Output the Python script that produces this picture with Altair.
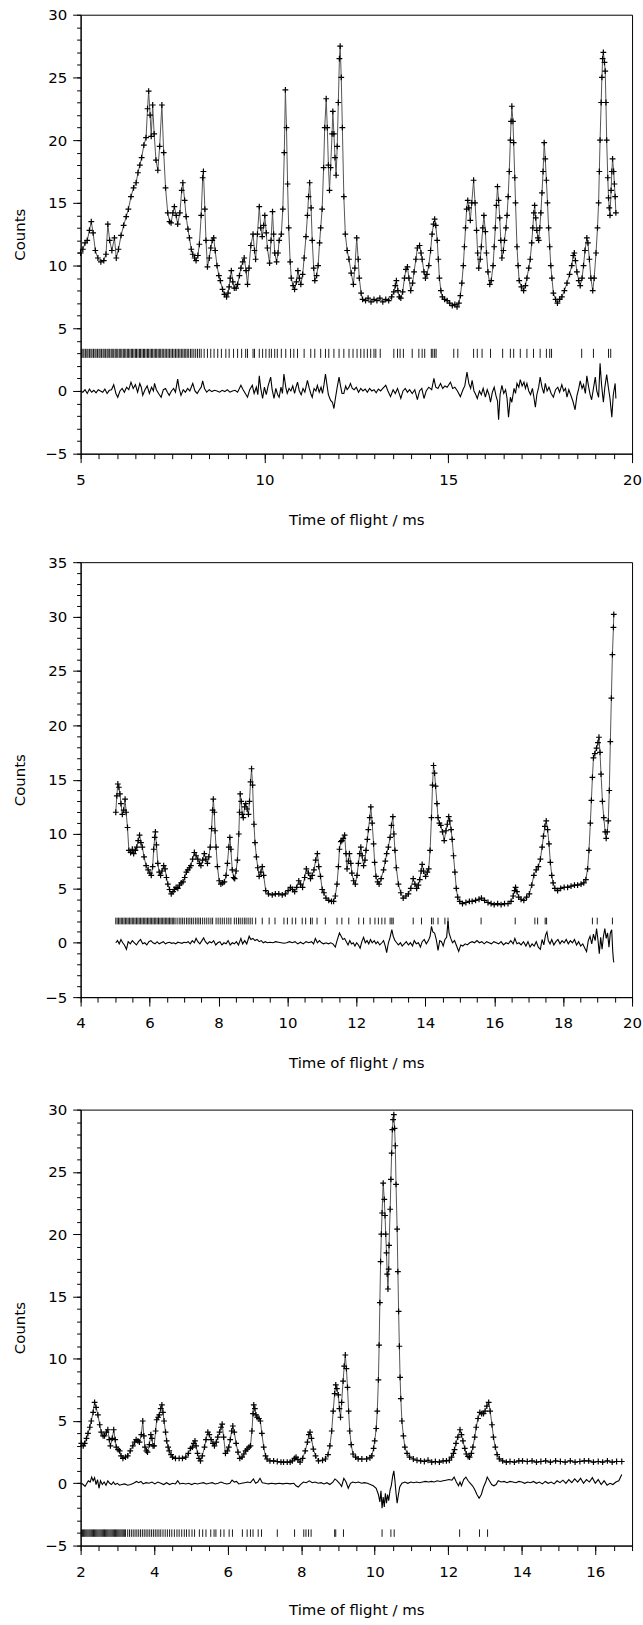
import altair as alt
import pandas as pd

FONT = "DejaVu Sans"

# ---------------- Panel 1 (top) ----------------
P1_OBS = [
(5.00,11.0),(5.06,11.3),(5.12,11.8),(5.18,12.0),(5.24,12.8),(5.29,13.5),(5.34,12.6),(5.40,11.2),(5.47,10.6),(5.55,10.3),
(5.63,10.4),(5.69,10.9),(5.74,13.3),(5.79,12.0),(5.85,11.2),(5.92,12.2),(5.97,10.6),(6.03,11.3),(6.10,12.4),(6.17,13.2),
(6.24,13.9),(6.30,14.5),(6.37,15.5),(6.44,16.2),(6.51,16.6),(6.56,17.4),(6.61,18.0),(6.66,18.6),(6.72,19.6),(6.78,20.2),
(6.82,22.5),(6.85,23.9),(6.89,22.0),(6.92,20.3),(6.96,22.8),(7.00,20.5),(7.05,18.4),(7.10,17.6),(7.15,19.5),(7.21,22.8),
(7.26,19.0),(7.31,16.2),(7.37,14.2),(7.42,13.5),(7.46,13.4),(7.51,14.2),(7.55,14.7),(7.60,14.0),(7.64,13.3),(7.70,14.2),
(7.75,16.0),(7.78,16.6),(7.83,15.2),(7.87,13.9),(7.92,12.9),(7.96,12.2),(8.01,11.3),(8.05,10.9),(8.10,10.6),(8.14,10.4),
(8.19,10.8),(8.23,11.7),(8.28,14.0),(8.32,17.0),(8.34,17.5),(8.38,14.5),(8.41,12.0),(8.45,9.9),(8.50,10.6),(8.54,11.4),
(8.58,12.0),(8.62,12.2),(8.66,11.2),(8.71,10.0),(8.76,9.2),(8.80,8.8),(8.86,8.1),(8.91,7.7),(8.97,7.5),(9.01,7.8),
(9.04,8.3),(9.07,9.0),(9.10,9.6),(9.14,8.7),(9.18,8.2),(9.23,8.2),(9.27,8.5),(9.32,9.2),(9.36,9.8),(9.41,10.3),
(9.45,10.6),(9.50,9.6),(9.54,8.5),(9.58,9.8),(9.63,11.6),(9.69,12.5),(9.73,11.2),(9.76,10.5),(9.81,12.5),(9.86,14.7),
(9.90,13.0),(9.94,12.3),(9.98,13.2),(10.01,14.0),(10.05,12.6),(10.08,11.4),(10.14,10.2),(10.18,12.0),(10.22,14.3),(10.25,12.5),
(10.28,11.0),(10.33,10.3),(10.37,11.0),(10.40,12.0),(10.46,12.5),(10.50,14.5),(10.54,19.0),(10.57,24.0),(10.60,21.0),(10.63,16.5),
(10.66,13.0),(10.70,10.3),(10.73,9.0),(10.78,8.4),(10.82,8.1),(10.87,8.7),(10.91,9.6),(10.95,9.0),(10.99,8.5),(11.04,9.3),
(11.08,10.6),(11.13,12.3),(11.17,14.0),(11.20,15.5),(11.23,16.6),(11.27,14.6),(11.30,12.0),(11.34,9.8),(11.37,8.8),(11.42,9.2),
(11.46,10.0),(11.50,11.8),(11.53,13.0),(11.57,14.5),(11.61,17.8),(11.64,21.0),(11.68,23.3),(11.71,21.0),(11.74,18.0),(11.77,16.0),
(11.80,17.8),(11.84,20.5),(11.86,22.3),(11.89,20.5),(11.92,18.6),(11.95,17.2),(11.98,19.5),(12.01,23.0),(12.04,26.5),(12.06,27.5),
(12.09,25.0),(12.12,21.0),(12.16,15.5),(12.20,12.5),(12.25,11.2),(12.30,10.5),(12.36,9.4),(12.42,8.5),(12.46,9.8),(12.51,12.2),
(12.55,10.5),(12.58,9.0),(12.63,7.8),(12.67,7.3),(12.75,7.2),(12.82,7.4),(12.90,7.1),(12.98,7.3),(13.06,7.2),(13.14,7.4),
(13.22,7.1),(13.30,7.3),(13.38,7.2),(13.46,7.5),(13.52,7.9),(13.56,8.4),(13.59,8.8),(13.63,8.0),(13.67,7.5),(13.71,7.4),
(13.76,7.9),(13.81,9.0),(13.85,9.7),(13.89,9.9),(13.93,9.0),(13.98,8.0),(14.03,8.6),(14.07,9.5),(14.12,10.5),(14.16,11.4),
(14.22,11.6),(14.26,11.0),(14.29,10.5),(14.34,9.5),(14.38,9.0),(14.42,9.3),(14.47,10.0),(14.52,11.2),(14.56,12.5),(14.60,13.3),
(14.63,13.7),(14.66,13.2),(14.70,12.0),(14.73,10.5),(14.76,9.0),(14.80,8.0),(14.84,7.5),(14.90,7.3),(14.97,7.2),(15.04,7.0),
(15.11,6.8),(15.18,6.9),(15.24,6.7),(15.29,7.0),(15.33,7.6),(15.37,8.6),(15.41,10.0),(15.44,11.5),(15.47,13.0),(15.50,14.5),
(15.53,15.2),(15.56,14.6),(15.60,13.6),(15.64,15.0),(15.69,16.8),(15.73,15.0),(15.77,12.8),(15.80,11.0),(15.83,9.8),(15.87,10.5),
(15.90,11.5),(15.94,13.0),(15.97,14.0),(16.01,12.7),(16.04,11.0),(16.08,9.5),(16.13,8.5),(16.17,8.8),(16.22,10.0),(16.25,11.5),
(16.28,13.0),(16.31,14.8),(16.34,16.3),(16.37,15.2),(16.40,13.8),(16.43,12.0),(16.46,10.6),(16.50,11.2),(16.53,12.0),(16.57,13.0),
(16.60,14.0),(16.63,15.5),(16.66,17.5),(16.69,20.0),(16.71,21.5),(16.73,22.7),(16.76,21.5),(16.78,19.8),(16.81,17.0),(16.83,15.0),
(16.87,11.5),(16.90,10.0),(16.93,8.8),(16.99,8.3),(17.05,8.0),(17.10,8.4),(17.14,9.0),(17.19,9.8),(17.23,10.5),(17.27,11.8),
(17.30,13.0),(17.33,14.2),(17.35,14.8),(17.38,13.8),(17.41,12.8),(17.44,12.2),(17.46,12.0),(17.49,13.0),(17.52,14.2),(17.55,15.8),
(17.58,17.5),(17.61,19.8),(17.64,18.5),(17.67,16.8),(17.70,15.0),(17.73,13.0),(17.76,11.5),(17.79,10.0),(17.82,9.0),(17.86,7.8),
(17.92,7.3),(17.97,7.0),(18.03,7.3),(18.09,7.5),(18.16,8.0),(18.23,8.6),(18.30,9.3),(18.36,10.0),(18.40,10.8),(18.43,11.0),
(18.46,10.4),(18.50,9.5),(18.55,8.8),(18.59,8.4),(18.64,9.0),(18.68,10.0),(18.72,11.2),(18.77,12.2),(18.80,11.8),(18.84,10.5),
(18.88,9.0),(18.93,8.0),(18.97,9.0),(19.02,11.0),(19.06,13.0),(19.09,15.0),(19.11,17.5),(19.13,20.0),(19.16,23.0),(19.18,25.0),
(19.20,26.5),(19.22,27.0),(19.25,26.2),(19.27,25.5),(19.29,23.0),(19.31,20.0),(19.34,17.0),(19.36,15.4),(19.38,14.6),(19.40,14.0),
(19.43,16.0),(19.45,17.5),(19.47,18.5),(19.50,17.5),(19.52,16.5),(19.54,15.5),(19.56,14.2),
]

P1_DIFF = [
(5.00,0.0),(5.06,-0.1),(5.12,0.1),(5.18,-0.2),(5.24,0.15),(5.30,-0.1),(5.36,0.05),(5.42,-0.15),(5.48,0.1),(5.54,0.0),
(5.60,-0.1),(5.66,0.15),(5.72,-0.2),(5.78,0.05),(5.84,0.1),(5.90,0.5),(5.96,-0.2),(6.01,-0.5),(6.07,0.0),(6.13,0.2),
(6.19,-0.1),(6.25,0.3),(6.31,0.1),(6.37,0.7),(6.43,0.2),(6.49,0.5),(6.55,-0.1),(6.61,0.6),(6.65,0.3),(6.69,-0.35),
(6.75,0.1),(6.81,0.4),(6.87,-0.2),(6.93,0.3),(6.98,0.0),(7.01,0.6),(7.06,0.1),(7.12,-0.2),(7.19,-0.5),(7.25,0.1),
(7.31,0.2),(7.36,-0.1),(7.41,-0.35),(7.47,0.0),(7.53,0.2),(7.58,-0.1),(7.64,0.95),(7.68,0.2),(7.73,-0.35),(7.79,0.1),
(7.85,-0.1),(7.91,0.2),(7.97,0.0),(8.05,0.6),(8.11,0.0),(8.17,-0.2),(8.23,0.1),(8.28,0.3),(8.32,0.8),(8.37,0.2),
(8.43,-0.1),(8.50,0.1),(8.57,-0.05),(8.64,0.05),(8.71,0.0),(8.78,-0.1),(8.85,0.05),(8.92,-0.05),(8.99,0.1),(9.06,-0.1),
(9.13,0.0),(9.20,0.05),(9.27,-0.1),(9.36,0.45),(9.42,0.1),(9.48,-0.2),(9.54,-0.5),(9.60,0.1),(9.67,0.45),(9.72,-0.2),
(9.78,0.3),(9.82,-0.3),(9.86,1.2),(9.90,0.2),(9.95,-0.6),(10.00,0.3),(10.05,-0.3),(10.10,0.4),(10.17,1.1),(10.21,0.1),
(10.26,-0.6),(10.31,0.2),(10.36,-0.3),(10.40,-0.5),(10.45,0.3),(10.49,-0.2),(10.53,1.35),(10.58,0.3),(10.62,-0.2),(10.67,0.2),
(10.72,0.0),(10.77,0.4),(10.82,-0.2),(10.86,0.3),(10.90,0.7),(10.95,0.0),(11.00,-0.3),(11.05,0.2),(11.10,-0.1),(11.17,0.85),
(11.22,0.2),(11.26,-0.2),(11.30,-0.5),(11.35,0.2),(11.40,0.0),(11.44,0.45),(11.49,-0.1),(11.54,0.3),(11.58,-0.2),(11.62,0.5),
(11.66,1.35),(11.70,0.5),(11.74,-0.3),(11.80,-0.75),(11.85,-0.9),(11.89,-1.4),(11.93,-0.6),(11.98,0.3),(12.03,1.1),(12.07,0.4),
(12.11,-0.2),(12.16,-0.2),(12.21,0.4),(12.25,0.1),(12.30,0.3),(12.34,0.6),(12.39,0.2),(12.44,0.1),(12.50,0.3),(12.56,-0.1),
(12.62,0.2),(12.68,0.0),(12.74,0.15),(12.80,-0.1),(12.86,0.2),(12.92,0.0),(12.98,0.1),(13.04,-0.15),(13.10,0.15),(13.16,0.0),
(13.22,0.2),(13.30,0.45),(13.36,0.0),(13.43,-0.45),(13.50,0.1),(13.56,-0.2),(13.62,0.2),(13.71,-0.6),(13.77,0.0),(13.83,0.2),
(13.89,-0.1),(13.95,0.1),(14.02,-0.2),(14.09,0.1),(14.16,-0.7),(14.22,0.0),(14.28,0.2),(14.34,-0.6),(14.40,0.0),(14.47,0.3),
(14.55,0.1),(14.61,1.0),(14.66,0.3),(14.72,0.2),(14.79,0.6),(14.85,0.2),(14.91,0.4),(14.97,0.3),(15.06,0.7),(15.12,0.2),
(15.18,0.3),(15.25,0.0),(15.33,-0.45),(15.40,0.1),(15.45,0.4),(15.51,1.5),(15.56,0.6),(15.61,0.2),(15.65,0.85),(15.70,0.0),
(15.75,-0.3),(15.79,-0.6),(15.85,0.0),(15.90,-0.3),(15.95,0.2),(16.01,-0.5),(16.06,0.1),(16.11,-0.3),(16.15,-0.9),(16.20,-0.1),
(16.25,0.3),(16.30,-0.4),(16.34,-0.8),(16.37,-2.3),(16.41,-0.3),(16.46,0.45),(16.51,-0.2),(16.56,0.1),(16.60,-0.6),(16.64,-2.1),
(16.69,-0.5),(16.73,-0.9),(16.79,0.2),(16.83,-0.2),(16.87,0.6),(16.92,0.3),(16.96,0.9),(17.01,0.4),(17.06,0.7),(17.10,0.2),
(17.14,0.6),(17.19,0.0),(17.24,-0.3),(17.29,0.2),(17.33,-0.5),(17.37,-1.3),(17.41,-0.3),(17.46,0.3),(17.50,1.1),(17.55,0.3),
(17.60,-0.2),(17.64,0.6),(17.69,0.0),(17.74,0.3),(17.80,-0.2),(17.86,-0.5),(17.92,0.1),(17.98,0.3),(18.03,-0.1),(18.09,0.5),
(18.14,0.0),(18.19,0.2),(18.23,-0.5),(18.28,0.1),(18.33,-0.3),(18.39,-0.8),(18.45,-1.5),(18.50,-0.4),(18.55,0.2),(18.59,0.8),
(18.64,0.2),(18.68,0.5),(18.73,-0.2),(18.77,1.2),(18.82,0.3),(18.86,-0.3),(18.90,-0.7),(18.95,0.2),(19.00,1.1),(19.04,0.0),
(19.09,-0.5),(19.13,2.2),(19.17,0.5),(19.22,-0.9),(19.26,0.3),(19.31,1.3),(19.36,0.2),(19.40,-0.6),(19.45,-2.1),(19.49,-0.3),
(19.54,0.6),(19.56,-0.6),
]

P1_TICKS = [
5.02,5.06,5.09,5.13,5.17,5.20,5.24,5.28,5.31,5.35,5.39,5.42,5.46,5.50,5.53,5.57,5.61,5.64,5.68,5.72,
5.75,5.79,5.83,5.86,5.90,5.94,5.97,6.01,6.05,6.08,6.12,6.16,6.19,6.23,6.27,6.30,6.34,6.38,6.41,6.45,
6.49,6.52,6.56,6.60,6.63,6.67,6.71,6.74,6.78,6.82,6.85,6.89,6.93,6.96,7.00,7.04,7.07,7.11,7.15,7.18,
7.22,7.26,7.30,7.34,7.38,7.42,7.46,7.50,7.54,7.58,7.62,7.66,7.70,7.74,7.78,7.82,7.86,7.90,7.94,7.99,
8.03,8.08,8.13,8.18,8.23,8.28,8.36,8.45,8.54,8.63,8.73,8.83,8.95,9.04,9.16,9.27,9.38,9.49,9.54,9.69,
9.73,9.86,9.95,10.04,10.13,10.19,10.28,10.35,10.46,10.58,10.71,10.80,10.90,11.08,11.26,11.37,11.53,11.66,11.75,11.89,
12.03,12.16,12.30,12.41,12.52,12.62,12.71,12.80,12.89,12.98,13.03,13.15,13.52,13.62,13.69,13.78,14.02,14.20,14.29,14.36,
14.54,14.58,14.63,14.67,15.15,15.26,15.69,15.79,15.92,16.15,16.48,16.69,16.78,16.96,17.14,17.32,17.50,17.67,17.76,17.81,
18.63,18.95,19.36,19.42,
]

# ---------------- Panel 2 (middle) ----------------
P2_OBS = [
(5.02,12.0),(5.05,13.5),(5.08,14.6),(5.11,14.3),(5.14,13.7),(5.17,12.8),(5.21,11.8),(5.25,12.2),(5.29,13.2),(5.32,12.0),
(5.36,10.6),(5.40,8.5),(5.45,8.3),(5.50,8.6),(5.54,8.2),(5.59,8.5),(5.63,8.8),(5.67,9.4),(5.71,9.9),(5.75,9.2),
(5.79,8.8),(5.84,7.9),(5.90,7.1),(5.96,6.7),(6.01,6.4),(6.05,6.2),(6.09,7.0),(6.12,8.6),(6.15,9.7),(6.17,10.2),
(6.20,9.0),(6.24,7.3),(6.28,6.5),(6.32,6.2),(6.36,6.6),(6.41,7.1),(6.45,6.8),(6.49,6.0),(6.53,5.4),(6.58,4.9),
(6.63,4.5),(6.68,4.7),(6.72,4.9),(6.77,5.1),(6.82,5.0),(6.87,5.3),(6.92,5.5),(6.97,5.6),(7.02,6.0),(7.07,6.5),
(7.11,6.7),(7.16,6.9),(7.20,7.1),(7.25,7.7),(7.30,8.3),(7.35,8.0),(7.40,7.7),(7.45,7.3),(7.49,7.1),(7.54,7.6),
(7.59,8.2),(7.63,7.7),(7.68,7.3),(7.72,7.9),(7.76,8.8),(7.80,10.5),(7.83,12.2),(7.85,13.2),(7.88,12.0),(7.90,10.3),
(7.93,8.8),(7.97,7.0),(8.02,5.7),(8.07,5.4),(8.12,5.5),(8.17,5.6),(8.22,6.2),(8.26,7.3),(8.30,8.8),(8.33,9.7),
(8.36,8.6),(8.40,6.7),(8.44,6.0),(8.47,5.9),(8.51,6.6),(8.55,7.6),(8.59,10.0),(8.61,12.0),(8.63,13.7),(8.66,13.0),
(8.69,11.8),(8.72,11.5),(8.76,12.5),(8.79,12.8),(8.83,12.3),(8.87,11.8),(8.90,13.0),(8.93,14.8),(8.96,16.0),(8.99,14.5),
(9.03,10.9),(9.06,9.2),(9.10,7.9),(9.14,6.9),(9.18,6.1),(9.23,6.5),(9.27,7.0),(9.31,6.2),(9.37,4.8),(9.45,4.5),
(9.56,4.4),(9.65,4.5),(9.75,4.5),(9.85,4.4),(9.94,4.5),(10.02,4.8),(10.09,5.1),(10.15,4.9),(10.21,4.7),(10.27,5.1),
(10.33,5.7),(10.38,5.4),(10.44,5.1),(10.50,6.0),(10.55,6.8),(10.61,6.4),(10.67,5.9),(10.72,6.2),(10.77,6.7),(10.82,7.6),
(10.87,8.2),(10.91,7.0),(10.96,6.1),(11.01,4.9),(11.06,4.6),(11.12,4.1),(11.20,3.9),(11.28,3.8),(11.34,3.8),(11.39,4.3),
(11.44,5.4),(11.48,7.0),(11.51,8.6),(11.55,9.3),(11.58,9.4),(11.62,9.6),(11.66,9.9),(11.70,8.2),(11.73,6.8),(11.77,7.5),
(11.80,8.2),(11.84,7.3),(11.87,6.4),(11.92,5.7),(11.97,5.4),(12.02,6.2),(12.06,7.3),(12.10,8.2),(12.13,8.8),(12.17,8.0),
(12.21,7.1),(12.25,7.6),(12.28,8.5),(12.32,9.5),(12.35,10.4),(12.39,11.5),(12.42,12.5),(12.46,11.0),(12.50,9.1),(12.53,7.4),
(12.57,6.1),(12.62,5.6),(12.66,5.4),(12.72,5.9),(12.79,6.7),(12.84,7.5),(12.88,8.2),(12.93,8.8),(12.98,9.7),(13.02,10.8),
(13.06,11.6),(13.09,10.0),(13.12,8.5),(13.16,6.9),(13.22,5.4),(13.29,4.6),(13.36,4.1),(13.44,4.3),(13.51,4.5),(13.58,5.0),
(13.65,5.9),(13.70,5.4),(13.75,5.0),(13.80,5.3),(13.84,5.8),(13.88,6.6),(13.91,7.2),(13.95,6.6),(14.01,6.1),(14.06,6.5),
(14.10,6.8),(14.14,8.5),(14.18,11.5),(14.21,14.5),(14.24,16.3),(14.27,15.6),(14.30,14.4),(14.34,12.8),(14.37,11.5),(14.41,11.0),
(14.45,10.8),(14.50,10.2),(14.55,9.4),(14.60,10.3),(14.64,10.9),(14.68,11.6),(14.71,11.2),(14.75,10.4),(14.78,9.5),(14.82,8.0),
(14.86,6.5),(14.90,5.0),(14.94,4.2),(15.00,3.8),(15.08,3.6),(15.18,3.7),(15.28,3.8),(15.36,3.8),(15.46,3.9),(15.56,4.0),
(15.63,4.1),(15.72,3.9),(15.82,3.7),(15.91,3.6),(16.00,3.5),(16.10,3.6),(16.20,3.5),(16.30,3.6),(16.40,3.6),(16.49,3.8),
(16.55,4.3),(16.59,4.8),(16.62,5.1),(16.66,4.7),(16.71,4.2),(16.78,4.0),(16.86,3.9),(16.94,4.2),(17.02,4.5),(17.09,5.3),
(17.15,6.2),(17.22,6.7),(17.28,7.0),(17.34,7.7),(17.39,8.8),(17.43,9.8),(17.47,10.7),(17.51,11.2),(17.55,10.4),(17.59,9.1),
(17.63,7.4),(17.67,6.2),(17.71,5.5),(17.76,5.0),(17.84,4.8),(17.93,5.0),(18.03,5.1),(18.13,5.1),(18.23,5.2),(18.33,5.3),
(18.42,5.3),(18.52,5.4),(18.60,5.5),(18.66,5.8),(18.71,6.8),(18.75,8.5),(18.79,11.0),(18.82,13.1),(18.85,15.2),(18.88,17.0),
(18.92,17.4),(18.97,17.9),(19.01,18.4),(19.04,18.9),(19.07,17.5),(19.10,15.5),(19.14,13.0),(19.18,11.5),(19.22,10.2),(19.25,9.6),
(19.28,10.2),(19.31,11.2),(19.34,14.0),(19.37,18.5),(19.40,22.5),(19.43,26.5),(19.46,29.0),(19.47,30.2),
]

P2_DIFF = [
(5.02,0.0),(5.07,0.2),(5.12,-0.1),(5.17,0.3),(5.22,0.0),(5.27,-0.2),(5.33,-0.6),(5.38,0.1),(5.44,-0.1),(5.50,0.2),
(5.56,0.0),(5.62,-0.2),(5.68,0.1),(5.74,0.3),(5.80,-0.1),(5.86,0.0),(5.92,-0.2),(5.98,0.1),(6.04,0.2),(6.10,0.0),
(6.16,-0.1),(6.22,0.1),(6.28,-0.1),(6.34,0.0),(6.40,0.1),(6.46,-0.1),(6.52,0.0),(6.58,0.05),(6.64,-0.05),(6.70,0.0),
(6.76,-0.1),(6.82,0.05),(6.88,0.0),(6.94,-0.05),(7.00,0.05),(7.06,0.0),(7.12,0.1),(7.18,-0.1),(7.24,0.2),(7.30,0.0),
(7.35,0.4),(7.40,0.1),(7.46,-0.1),(7.52,0.2),(7.57,0.45),(7.62,0.1),(7.68,-0.1),(7.74,0.1),(7.80,0.0),(7.86,0.2),
(7.92,-0.2),(7.98,0.0),(8.04,0.1),(8.10,-0.2),(8.16,0.0),(8.22,-0.1),(8.28,0.2),(8.34,-0.2),(8.40,0.0),(8.46,-0.1),
(8.52,0.1),(8.58,-0.2),(8.65,0.4),(8.70,-0.1),(8.76,0.2),(8.82,-0.1),(8.89,0.6),(8.94,0.3),(9.00,0.4),(9.06,0.2),
(9.12,0.3),(9.18,0.1),(9.24,0.2),(9.30,0.0),(9.36,0.1),(9.42,0.0),(9.50,0.05),(9.58,0.0),(9.66,0.1),(9.74,0.05),
(9.82,0.0),(9.90,-0.05),(9.98,0.0),(10.06,0.1),(10.14,0.0),(10.22,0.1),(10.30,-0.1),(10.38,0.05),(10.46,-0.1),(10.54,0.1),
(10.62,0.0),(10.70,0.1),(10.76,-0.1),(10.81,0.4),(10.87,0.0),(10.93,0.2),(10.99,0.0),(11.05,-0.1),(11.12,0.0),(11.19,-0.1),
(11.26,0.0),(11.32,-0.1),(11.39,-0.4),(11.44,0.2),(11.51,0.9),(11.56,0.6),(11.61,0.3),(11.66,0.4),(11.71,0.1),(11.76,-0.2),
(11.81,0.2),(11.86,-0.1),(11.91,0.0),(11.96,-0.3),(12.01,0.0),(12.06,-0.2),(12.11,-0.5),(12.16,0.1),(12.21,0.5),(12.26,0.0),
(12.31,0.2),(12.36,-0.1),(12.41,0.3),(12.46,0.0),(12.52,0.2),(12.57,-0.1),(12.62,0.1),(12.68,-0.2),(12.74,0.0),(12.79,0.2),
(12.84,-0.3),(12.88,-0.9),(12.93,0.0),(12.98,0.5),(13.03,1.2),(13.07,0.6),(13.12,0.2),(13.17,0.0),(13.22,-0.2),(13.28,0.0),
(13.33,-0.3),(13.39,-0.1),(13.45,0.1),(13.51,-0.2),(13.57,0.0),(13.63,-0.3),(13.68,0.2),(13.74,-0.1),(13.80,0.0),(13.86,-0.4),
(13.91,0.1),(13.97,0.3),(14.03,-0.1),(14.09,0.2),(14.14,0.6),(14.18,1.5),(14.22,1.0),(14.27,0.9),(14.32,0.3),(14.37,-0.7),
(14.42,0.2),(14.47,0.1),(14.52,-0.3),(14.57,0.3),(14.62,0.5),(14.66,2.0),(14.69,0.9),(14.74,0.4),(14.79,0.0),(14.85,0.2),
(14.91,-0.3),(14.97,-0.8),(15.03,-0.2),(15.09,-0.3),(15.16,-0.1),(15.22,-0.2),(15.29,0.0),(15.36,0.1),(15.43,0.0),(15.50,0.2),
(15.57,0.0),(15.64,0.1),(15.71,-0.1),(15.78,0.1),(15.85,0.0),(15.92,-0.1),(15.99,0.1),(16.06,0.0),(16.13,-0.1),(16.20,0.1),
(16.27,-0.2),(16.34,0.0),(16.41,-0.1),(16.48,0.2),(16.55,-0.1),(16.60,0.4),(16.66,-0.1),(16.72,0.0),(16.78,-0.2),(16.85,0.1),
(16.92,-0.3),(16.98,0.1),(17.04,-0.4),(17.10,-0.1),(17.16,-0.3),(17.22,0.1),(17.28,-0.4),(17.34,-0.6),(17.39,0.3),(17.44,-0.2),
(17.49,0.7),(17.53,1.0),(17.57,0.2),(17.62,-0.1),(17.67,0.3),(17.73,-0.2),(17.79,0.1),(17.85,0.3),(17.91,-0.1),(17.97,0.2),
(18.03,0.0),(18.09,0.3),(18.15,-0.1),(18.21,0.2),(18.27,0.0),(18.33,0.3),(18.39,-0.2),(18.45,0.1),(18.51,-0.3),(18.57,-0.1),
(18.63,-0.5),(18.68,-0.8),(18.73,0.2),(18.78,0.6),(18.83,-0.1),(18.88,0.8),(18.93,0.2),(18.97,1.3),(19.01,0.3),(19.05,-1.0),
(19.09,0.5),(19.13,-0.6),(19.17,0.6),(19.21,1.3),(19.25,0.4),(19.29,0.9),(19.33,-0.4),(19.37,0.9),(19.41,1.2),(19.44,-0.8),
(19.46,-1.6),(19.47,-1.8),
]

P2_TICKS = [
5.02,5.06,5.10,5.14,5.18,5.22,5.26,5.30,5.34,5.38,5.42,5.46,5.50,5.54,5.58,5.62,5.66,5.70,5.74,5.78,
5.82,5.86,5.90,5.94,5.98,6.02,6.06,6.10,6.14,6.18,6.22,6.26,6.30,6.34,6.38,6.42,6.46,6.50,6.54,6.58,
6.62,6.66,6.70,6.74,6.80,6.86,6.91,6.96,7.01,7.07,7.12,7.17,7.22,7.27,7.33,7.38,7.43,7.48,7.54,7.60,
7.66,7.72,7.78,7.83,7.93,7.99,8.05,8.11,8.17,8.24,8.30,8.36,8.46,8.52,8.58,8.63,8.69,8.75,8.80,8.86,
8.92,8.98,9.08,9.27,9.47,9.64,9.90,10.00,10.14,10.24,10.43,10.53,10.67,10.72,10.86,11.10,11.44,11.58,11.78,12.07,
12.21,12.40,12.54,12.64,12.74,12.83,12.98,13.03,13.07,13.65,13.89,14.18,14.23,14.37,14.57,14.66,15.62,16.61,17.18,17.26,
17.48,17.52,18.85,18.99,19.43,
]

# ---------------- Panel 3 (bottom) ----------------
P3_OBS = [
(2.02,3.2),(2.07,3.0),(2.11,3.2),(2.16,3.6),(2.20,4.0),(2.25,4.5),(2.29,5.0),(2.34,5.7),(2.38,6.5),(2.42,6.1),
(2.47,5.5),(2.52,4.7),(2.56,4.1),(2.61,3.8),(2.65,3.8),(2.70,4.1),(2.74,4.3),(2.78,3.5),(2.81,3.0),(2.86,3.6),
(2.90,4.3),(2.94,3.5),(2.97,2.9),(3.02,2.7),(3.06,2.6),(3.10,2.2),(3.15,2.0),(3.22,2.1),(3.28,2.2),(3.35,2.6),
(3.42,3.0),(3.47,3.3),(3.51,3.5),(3.56,3.4),(3.60,3.3),(3.65,3.9),(3.69,5.0),(3.72,3.8),(3.75,2.9),(3.79,2.6),
(3.82,2.5),(3.87,3.1),(3.91,3.9),(3.94,3.6),(3.97,3.0),(4.00,3.0),(4.04,4.2),(4.07,5.1),(4.11,5.3),(4.14,5.5),
(4.18,6.0),(4.21,6.3),(4.24,5.7),(4.27,5.0),(4.31,4.1),(4.34,3.4),(4.38,2.9),(4.41,2.6),(4.46,2.3),(4.50,2.1),
(4.58,2.0),(4.68,2.0),(4.77,2.0),(4.86,2.1),(4.93,2.4),(4.99,2.8),(5.04,2.9),(5.08,3.2),(5.11,3.4),(5.14,3.0),
(5.18,2.4),(5.22,2.0),(5.26,1.8),(5.31,2.2),(5.37,2.9),(5.41,3.5),(5.46,4.1),(5.50,3.9),(5.55,3.5),(5.60,3.2),
(5.64,3.0),(5.69,3.3),(5.73,3.7),(5.78,4.1),(5.82,4.5),(5.85,4.75),(5.89,3.7),(5.94,2.4),(5.99,2.6),(6.03,2.9),
(6.07,3.5),(6.11,4.2),(6.14,4.6),(6.18,4.1),(6.23,3.2),(6.28,2.5),(6.33,2.0),(6.39,2.1),(6.44,2.35),(6.49,2.6),
(6.53,2.75),(6.58,2.9),(6.62,3.0),(6.66,4.2),(6.69,5.6),(6.71,6.3),(6.74,6.0),(6.77,5.5),(6.80,5.3),(6.85,5.2),
(6.89,5.0),(6.93,4.0),(6.98,2.9),(7.03,2.2),(7.07,1.95),(7.15,1.8),(7.25,1.8),(7.35,1.75),(7.45,1.7),(7.52,1.7),
(7.62,1.7),(7.70,1.7),(7.76,1.8),(7.82,2.0),(7.86,2.1),(7.91,1.9),(7.97,1.7),(8.04,2.0),(8.11,2.6),(8.17,3.3),
(8.21,3.9),(8.24,4.1),(8.28,3.6),(8.33,2.75),(8.39,2.2),(8.47,1.8),(8.58,1.85),(8.66,1.95),(8.73,2.3),(8.78,3.0),
(8.83,4.2),(8.87,5.8),(8.91,7.2),(8.94,7.9),(8.97,7.6),(9.01,7.1),(9.04,6.0),(9.07,5.3),(9.10,6.5),(9.14,8.2),
(9.17,9.4),(9.20,10.3),(9.23,9.2),(9.26,7.7),(9.29,5.8),(9.32,4.2),(9.36,3.1),(9.41,2.35),(9.48,2.1),(9.55,1.96),
(9.65,1.95),(9.78,1.95),(9.87,2.05),(9.92,2.2),(9.97,2.8),(10.00,3.4),(10.04,4.4),(10.07,5.8),(10.10,8.3),(10.12,11.1),
(10.14,14.5),(10.16,17.8),(10.18,20.0),(10.20,21.7),(10.23,24.1),(10.26,22.8),(10.28,21.5),(10.30,20.0),(10.32,18.5),(10.34,16.8),
(10.36,15.6),(10.38,17.2),(10.39,19.1),(10.42,22.0),(10.44,24.4),(10.46,26.5),(10.48,28.4),(10.50,29.2),(10.52,29.6),(10.54,28.5),
(10.56,27.1),(10.58,24.0),(10.61,20.4),(10.63,17.0),(10.65,13.8),(10.67,11.0),(10.69,8.5),(10.71,6.8),(10.74,5.0),(10.78,3.8),
(10.82,2.9),(10.88,2.4),(10.95,2.1),(11.05,1.95),(11.15,1.85),(11.25,1.8),(11.35,1.75),(11.45,1.85),(11.55,1.7),(11.65,1.75),
(11.76,1.7),(11.86,1.8),(11.95,1.8),(12.03,1.85),(12.09,2.1),(12.14,2.4),(12.17,2.7),(12.21,3.2),(12.26,3.7),(12.32,4.3),
(12.36,3.9),(12.40,3.4),(12.45,2.8),(12.49,2.35),(12.54,2.15),(12.58,2.1),(12.63,2.4),(12.67,2.9),(12.72,3.7),(12.76,4.5),
(12.81,5.2),(12.86,5.7),(12.91,5.6),(12.96,5.6),(13.00,5.8),(13.05,6.2),(13.10,6.5),(13.14,5.8),(13.19,4.7),(13.23,3.7),
(13.28,2.9),(13.33,2.3),(13.39,1.96),(13.48,1.8),(13.58,1.7),(13.68,1.75),(13.80,1.7),(13.92,1.8),(14.02,1.8),(14.15,1.75),
(14.28,1.8),(14.40,1.7),(14.52,1.75),(14.65,1.8),(14.78,1.7),(14.92,1.8),(15.05,1.75),(15.18,1.7),(15.32,1.8),(15.45,1.7),
(15.58,1.75),(15.70,1.8),(15.82,1.8),(15.95,1.7),(16.08,1.75),(16.20,1.7),(16.33,1.8),(16.46,1.7),(16.58,1.75),(16.72,1.75),
]

P3_DIFF = [
(2.02,0.0),(2.07,-0.1),(2.12,-0.25),(2.17,0.0),(2.21,0.2),(2.26,0.1),(2.30,0.5),(2.34,0.2),(2.38,0.45),(2.42,-0.1),
(2.46,0.3),(2.50,-0.4),(2.54,0.2),(2.59,-0.1),(2.64,0.1),(2.69,-0.15),(2.74,0.2),(2.79,0.0),(2.84,-0.1),(2.89,0.1),
(2.94,-0.1),(3.00,0.0),(3.06,-0.15),(3.12,-0.1),(3.20,-0.05),(3.28,-0.15),(3.36,-0.1),(3.44,0.0),(3.52,0.15),(3.58,0.05),
(3.64,0.15),(3.70,-0.05),(3.78,0.05),(3.86,0.0),(3.94,0.1),(4.02,-0.05),(4.10,0.1),(4.18,0.0),(4.26,-0.1),(4.34,0.05),
(4.42,-0.1),(4.50,0.0),(4.58,-0.05),(4.64,0.2),(4.70,-0.05),(4.78,0.0),(4.86,-0.05),(4.94,0.0),(5.02,-0.1),(5.10,0.0),
(5.18,-0.05),(5.26,0.0),(5.34,0.05),(5.42,-0.05),(5.50,0.0),(5.58,0.05),(5.66,-0.05),(5.74,0.0),(5.82,0.1),(5.90,0.0),
(5.98,-0.05),(6.06,0.0),(6.12,0.25),(6.18,0.1),(6.24,0.15),(6.30,-0.05),(6.38,0.0),(6.46,0.05),(6.54,0.1),(6.62,0.05),
(6.70,0.35),(6.76,0.0),(6.82,0.1),(6.88,0.4),(6.94,0.05),(7.02,0.0),(7.10,-0.05),(7.20,0.0),(7.30,-0.05),(7.40,0.0),
(7.50,-0.05),(7.60,0.0),(7.70,-0.05),(7.80,0.0),(7.86,-0.2),(7.92,-0.3),(7.98,-0.1),(8.06,0.1),(8.14,0.05),(8.22,0.2),
(8.30,0.05),(8.38,0.1),(8.46,0.0),(8.54,0.05),(8.62,-0.05),(8.70,0.05),(8.78,-0.1),(8.86,0.1),(8.92,0.35),(8.98,0.2),
(9.04,0.0),(9.10,-0.25),(9.16,0.4),(9.22,0.1),(9.28,-0.4),(9.34,0.0),(9.40,0.1),(9.48,0.05),(9.56,0.1),(9.64,0.0),
(9.72,0.05),(9.80,0.0),(9.88,-0.1),(9.96,-0.2),(10.04,-0.4),(10.10,-0.9),(10.14,-1.5),(10.17,-0.6),(10.20,-2.0),(10.23,-1.1),
(10.26,-1.9),(10.29,-0.8),(10.32,-1.6),(10.35,-0.9),(10.38,-1.4),(10.42,-0.5),(10.45,-0.2),(10.49,0.6),(10.52,1.0),(10.55,0.2),
(10.58,-0.8),(10.61,-1.6),(10.64,-1.0),(10.68,-0.3),(10.74,0.0),(10.82,0.1),(10.90,0.0),(10.98,0.1),(11.06,0.05),(11.14,0.1),
(11.22,0.05),(11.30,0.1),(11.38,0.15),(11.46,0.1),(11.54,0.15),(11.62,0.1),(11.70,0.2),(11.78,0.15),(11.86,0.2),(11.94,0.25),
(12.02,0.3),(12.10,0.25),(12.16,0.5),(12.22,0.1),(12.28,-0.2),(12.32,0.1),(12.36,-0.2),(12.42,0.3),(12.48,0.5),(12.54,0.2),
(12.60,0.0),(12.66,-0.2),(12.72,-0.5),(12.78,-0.9),(12.84,-1.2),(12.90,-0.9),(12.96,-0.3),(13.02,0.1),(13.06,0.5),(13.12,0.2),
(13.18,-0.1),(13.24,-0.2),(13.30,-0.1),(13.36,0.2),(13.44,0.1),(13.52,0.15),(13.60,0.05),(13.68,0.15),(13.76,0.1),(13.84,0.05),
(13.92,0.15),(14.00,0.1),(14.08,0.0),(14.16,0.1),(14.24,0.05),(14.32,0.15),(14.40,0.0),(14.48,0.1),(14.56,-0.05),(14.64,0.15),
(14.72,0.0),(14.80,0.1),(14.88,-0.05),(14.96,0.2),(15.04,0.05),(15.12,0.25),(15.20,0.0),(15.28,0.3),(15.36,0.05),(15.44,0.35),
(15.52,0.1),(15.60,0.4),(15.68,0.0),(15.76,0.3),(15.84,0.1),(15.92,0.45),(16.00,0.0),(16.08,0.3),(16.16,-0.1),(16.24,0.2),
(16.32,-0.15),(16.40,0.0),(16.48,-0.1),(16.56,0.1),(16.64,0.2),(16.72,0.7),
]

P3_TICKS = [
2.02,2.05,2.08,2.11,2.14,2.17,2.20,2.23,2.26,2.29,2.32,2.35,2.38,2.41,2.44,2.47,2.50,2.53,2.56,2.59,
2.62,2.65,2.68,2.71,2.74,2.77,2.80,2.83,2.86,2.89,2.92,2.95,2.98,3.01,3.04,3.07,3.10,3.13,3.16,3.19,
3.22,3.28,3.33,3.38,3.43,3.48,3.53,3.58,3.63,3.68,3.73,3.78,3.83,3.88,3.93,3.98,4.03,4.08,4.13,4.18,
4.24,4.30,4.36,4.42,4.48,4.55,4.62,4.68,4.75,4.82,4.88,4.95,5.03,5.10,5.23,5.32,5.41,5.54,5.63,5.68,
5.81,5.90,6.04,6.13,6.40,6.53,6.62,6.69,6.83,6.92,7.35,7.82,8.07,8.13,8.20,8.27,8.91,8.94,9.15,10.20,
10.44,10.53,12.31,12.85,13.07,
]

# axis label values
P1_X_LABELS = [5, 10, 15, 20]
P1_Y_LABELS = [-5, 0, 5, 10, 15, 20, 25, 30]
P2_X_LABELS = [4, 6, 8, 10, 12, 14, 16, 18, 20]
P2_Y_LABELS = [-5, 0, 5, 10, 15, 20, 25, 30, 35]
P3_X_LABELS = [2, 4, 6, 8, 10, 12, 14, 16]
P3_Y_LABELS = [-5, 0, 5, 10, 15, 20, 25, 30]

XTITLE = "Time of flight / ms"
YTITLE = "Counts"

PLUS = "M-1,0L1,0M0,-1L0,1"


def minor_values(lo, hi, step):
    n = int(round((hi - lo) / step))
    return [round(lo + i * step, 3) for i in range(n + 1)]


def panel(obs, diff, ticks, tick_level, tick_half, xdom, ydom, xlabels, ylabels, height, xtitle_pad):
    df_obs = pd.DataFrame(obs, columns=["t", "c"])
    df_diff = pd.DataFrame(diff, columns=["t", "d"])
    df_tick = pd.DataFrame({"t": ticks})

    xs = alt.Scale(domain=xdom, nice=False, zero=False)
    ys = alt.Scale(domain=ydom, nice=False, zero=False)

    x_major = alt.Axis(values=xlabels, title=XTITLE, tickSize=9, labelPadding=10,
                       titlePadding=xtitle_pad, orient="bottom", grid=False, labelFlush=False)
    y_major = alt.Axis(values=ylabels, title=YTITLE, tickSize=8, labelPadding=6,
                       titlePadding=17, orient="left", grid=False)
    x_minor = alt.Axis(values=minor_values(xdom[0], xdom[1], 0.5), labels=False, domain=False,
                       tickSize=5, title=None, orient="bottom", grid=False)
    y_minor = alt.Axis(values=minor_values(ydom[0], ydom[1], 1), labels=False, domain=False,
                       tickSize=4, title=None, orient="left", grid=False)

    calc = alt.Chart(df_obs).mark_line(color="#555555", strokeWidth=1.0).encode(
        x=alt.X("t:Q", scale=xs, axis=x_major),
        y=alt.Y("c:Q", scale=ys, axis=y_major),
    )
    pts = alt.Chart(df_obs).mark_point(shape=PLUS, size=34, strokeWidth=1.2, color="black",
                                       filled=False, opacity=1).encode(
        x=alt.X("t:Q", scale=xs, axis=None),
        y=alt.Y("c:Q", scale=ys, axis=None),
    )
    dline = alt.Chart(df_diff).mark_line(color="black", strokeWidth=1.1).encode(
        x=alt.X("t:Q", scale=xs, axis=x_minor),
        y=alt.Y("d:Q", scale=ys, axis=y_minor),
    )
    tks = alt.Chart(df_tick).mark_rule(color="black", strokeWidth=0.9).encode(
        x=alt.X("t:Q", scale=xs, axis=None),
        y=alt.YDatum(tick_level - tick_half, axis=None, scale=ys),
        y2=alt.datum(tick_level + tick_half),
    )
    return alt.layer(calc, pts, dline, tks).resolve_axis(
        x="independent", y="independent"
    ).properties(width=554, height=height)


p1 = panel(P1_OBS, P1_DIFF, P1_TICKS, 3.0, 0.36, [5, 20], [-5, 30], P1_X_LABELS, P1_Y_LABELS, 441, 25)
p2 = panel(P2_OBS, P2_DIFF, P2_TICKS, 2.0, 0.31, [4, 20], [-5, 35], P2_X_LABELS, P2_Y_LABELS, 437, 25)
p3 = panel(P3_OBS, P3_DIFF, P3_TICKS, -4.0, 0.30, [2, 17], [-5, 30], P3_X_LABELS, P3_Y_LABELS, 438, 23)

top = alt.vconcat(p1, p2, spacing=26)
chart = alt.vconcat(top, p3, spacing=30).properties(
    padding={"left": 12, "top": 3, "right": 0, "bottom": 0}
).configure_view(
    stroke="black", strokeWidth=1
).configure_axis(
    labelFont=FONT, titleFont=FONT, labelFontSize=15, titleFontSize=15,
    titleFontWeight="normal", labelColor="black", titleColor="black",
    domainColor="black", tickColor="black", domainWidth=1, tickWidth=1,
)

chart.save("out.html", embed_options={"renderer": "svg", "actions": False})
